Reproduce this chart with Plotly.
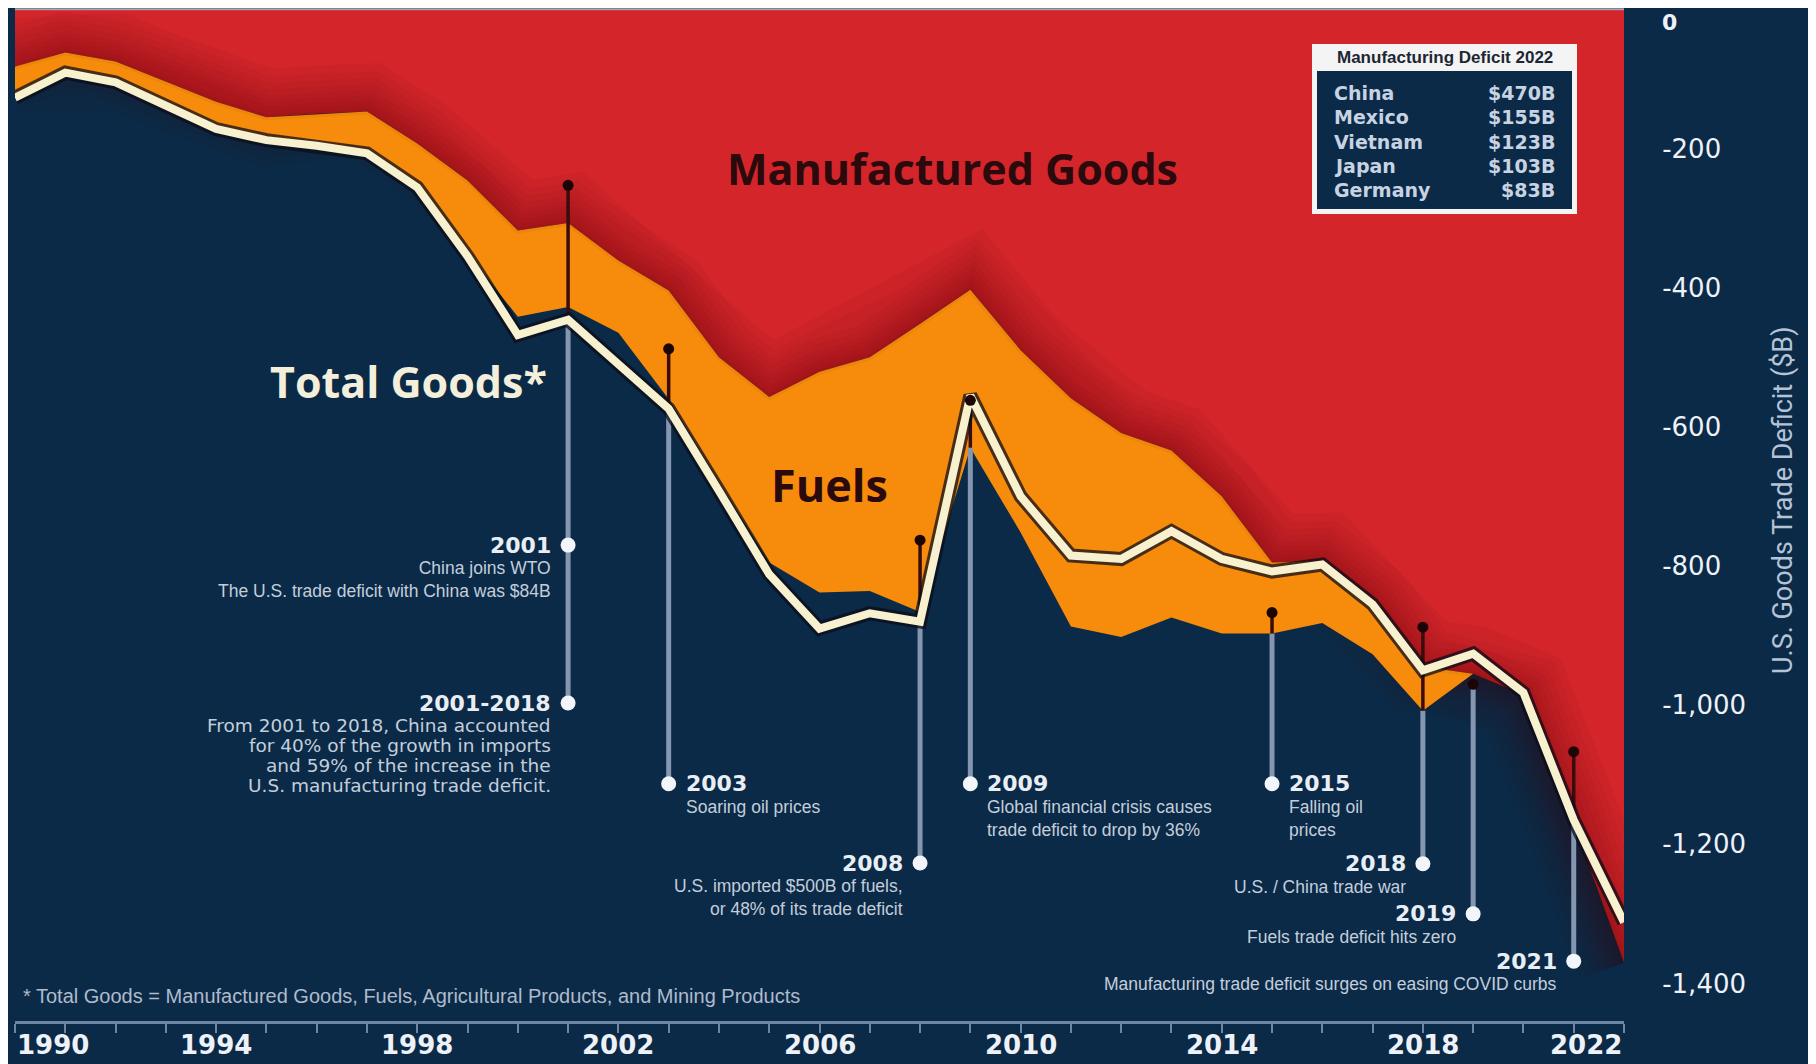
import plotly.graph_objects as go

# ---------------- data ----------------
years = list(range(1990, 2023))

# U.S. goods trade deficit, $B
total_goods = [-127, -91, -105, -140, -172, -188, -196, -207, -256, -355,
               -468, -446, -510, -574, -692, -812, -890, -868, -880, -555,
               -700, -785, -790, -750, -790, -808, -798, -855, -950, -926,
               -982, -1165, -1312]

manufactured = [-82, -62, -75, -104, -133, -155, -150, -147, -193, -246,
                -318, -307, -361, -404, -500, -557, -521, -500, -452, -403,
                -490, -559, -609, -634, -700, -795, -793, -850, -945, -955,
                -985, -1170, -1370]

manufactured_plus_fuels = [-124, -88, -102, -137, -169, -185, -193, -204, -253, -350,
                           -442, -428, -465, -560, -680, -795, -838, -836, -866, -630,
                           -752, -887, -902, -874, -897, -897, -882, -927, -1008, -955,
                           -985, -1170, -1370]

y_tick_vals = [-200, -400, -600, -800, -1000, -1200, -1400]
y_tick_text = ["-200", "-400", "-600", "-800", "-1,000", "-1,200", "-1,400"]
x_label_years = [1990, 1994, 1998, 2002, 2006, 2010, 2014, 2018, 2022]

pin_years = [2001, 2003, 2008, 2009, 2015, 2018, 2019, 2021]
pin_top = [-253, -488, -763, -562, -867, -888, -970, -1067]
pin_bottom = [-997, -1113, -1227, -1113, -1113, -1228, -1300, -1368]
extra_dot_year = 2001
extra_dot_value = -770

event_labels = [
    (2001, -770, "2001", "China joins WTO<br>The U.S. trade deficit with China was $84B", "right"),
    (2001, -997, "2001-2018", None, "right"),
    (2003, -1113, "2003", "Soaring oil prices", "left"),
    (2008, -1227, "2008", "U.S. imported $500B of fuels,<br>or 48% of its trade deficit", "right"),
    (2009, -1113, "2009", "Global financial crisis causes<br>trade deficit to drop by 36%", "left"),
    (2015, -1113, "2015", "Falling oil<br>prices", "left"),
    (2018, -1228, "2018", "U.S. / China trade war", "right"),
    (2019, -1300, "2019", "Fuels trade deficit hits zero", "right"),
    (2021, -1368, "2021", "Manufacturing trade deficit surges on easing COVID curbs", "right"),
]
china_para = ["From 2001 to 2018, China accounted",
              "for 40% of the growth in imports",
              "and 59% of the increase in the",
              "U.S. manufacturing trade deficit."]

inset_title = "Manufacturing Deficit 2022"
inset_countries = ["China", "Mexico", "Vietnam", "Japan", "Germany"]
inset_values = ["$470B", "$155B", "$123B", "$103B", "$83B"]

footnote = "* Total Goods = Manufactured Goods, Fuels, Agricultural Products, and Mining Products"

# ---------------- style ----------------
NAVY = "#0b2a47"
RED = "#d3252a"
ORANGE = "#f68b0c"
CREAM = "#f7f1cf"
PIN_LIGHT = "#8496b0"
PIN_DARK = "#3a0c0e"
OFF = 8                      # page offset of the figure inside the browser page
W, H = 1816 - OFF, 1064 - OFF
L, R, T, B = 7, 192, 0, 43
PW, PH = W - L - R, H - T - B

NARROW = "Liberation Sans Narrow, Roboto, sans-serif"
REG = "Liberation Sans, Arial, sans-serif"
WIDE = "DejaVu Sans, Verdana, sans-serif"
HEAVY = "Open Sans, Lato, sans-serif"


def px(x):
    """page-pixel x -> paper x"""
    return (x - OFF - L) / PW


def py(y):
    """page-pixel y -> paper y"""
    return 1 - (y - OFF - T) / PH


fig = go.Figure()

# manufactured goods area (0 -> manufactured)
fig.add_trace(go.Scatter(x=years, y=manufactured, mode="lines", fill="tozeroy",
                         fillcolor=RED, line=dict(width=0), hoverinfo="skip"))
# soft shadow along the manufactured boundary
for w_ in [96, 80, 66, 54, 42, 32, 22, 13, 6]:
    fig.add_trace(go.Scatter(x=years, y=manufactured, mode="lines",
                             line=dict(width=w_, color="rgba(60,0,10,0.045)"), hoverinfo="skip"))
# fuels band
fig.add_trace(go.Scatter(x=years, y=manufactured_plus_fuels, mode="lines", fill="tonexty",
                         fillcolor=ORANGE, line=dict(width=0), hoverinfo="skip"))

# pin segments
tot = dict(zip(years, total_goods))
mf = dict(zip(years, manufactured_plus_fuels))
lx, ly, dx, dy = [], [], [], []
for yr, top, bot in zip(pin_years, pin_top, pin_bottom):
    split = min(tot[yr], mf[yr])
    if top > split:
        dx += [yr, yr, None]
        dy += [top, split, None]
        start = split
    else:
        start = top
    lx += [yr, yr, None]
    ly += [start, bot, None]
fig.add_trace(go.Scatter(x=lx, y=ly, mode="lines", line=dict(width=5, color=PIN_LIGHT),
                         hoverinfo="skip"))
fig.add_trace(go.Scatter(x=dx, y=dy, mode="lines", line=dict(width=3.5, color=PIN_DARK),
                         hoverinfo="skip"))

# total goods line
fig.add_trace(go.Scatter(x=years, y=total_goods, mode="lines",
                         line=dict(width=14, color="rgba(12,14,24,0.75)"), hoverinfo="skip"))
fig.add_trace(go.Scatter(x=years, y=total_goods, mode="lines",
                         line=dict(width=8, color=CREAM), hoverinfo="skip"))

# pin dots
fig.add_trace(go.Scatter(x=pin_years, y=pin_top, mode="markers",
                         marker=dict(size=11, color="#1c0506"), hoverinfo="skip"))
fig.add_trace(go.Scatter(x=pin_years + [extra_dot_year], y=pin_bottom + [extra_dot_value],
                         mode="markers", marker=dict(size=15, color="#f2f5fa"), hoverinfo="skip"))

ann = []
# event labels
for yr, val, head, desc, side in event_labels:
    sgn = -1 if side == "right" else 1
    ann.append(dict(x=yr, y=val, xref="x", yref="y", text="<b>%s</b>" % head, showarrow=False,
                    xanchor=side, yanchor="middle",
                    xshift=sgn * 15, font=dict(family=WIDE, size=22, color="#e9eef5")))
    if desc:
        ann.append(dict(x=yr, y=val, xref="x", yref="y", text=desc, showarrow=False,
                        xanchor=side, yanchor="top", align=side, xshift=sgn * 15, yshift=-11,
                        font=dict(family=REG, size=17.5, color="#c3cedc")))
for i, line in enumerate(china_para):
    ann.append(dict(x=2001, y=-997, xref="x", yref="y", text=line, showarrow=False,
                    xanchor="right", yanchor="middle", align="right", xshift=-15,
                    yshift=-(22 + 20 * i),
                    font=dict(family=WIDE, size=18.5, color="#c3cedc")))

# big series labels
ann.append(dict(x=px(952), y=py(168), xref="paper", yref="paper", showarrow=False,
                xanchor="center", yanchor="middle",
                text="<b>Manufactured Goods</b>", font=dict(family=HEAVY, size=43, color="#2a0a0d")))
ann.append(dict(x=px(408), y=py(382), xref="paper", yref="paper", showarrow=False,
                xanchor="center", yanchor="middle",
                text="<b>Total Goods*</b>", font=dict(family=HEAVY, size=43, color="#f3efdb")))
ann.append(dict(x=px(829), y=py(484), xref="paper", yref="paper", showarrow=False,
                xanchor="center", yanchor="middle",
                text="<b>Fuels</b>", font=dict(family=HEAVY, size=45, color="#2a0a0d")))

# footnote
ann.append(dict(x=px(21), y=py(996), xref="paper", yref="paper", showarrow=False,
                xanchor="left", yanchor="middle", text=footnote,
                font=dict(family=REG, size=20, color="#aebbcc")))

# y-axis title
ann.append(dict(x=px(1783), y=py(500), xref="paper", yref="paper", showarrow=False,
                xanchor="center", yanchor="middle",
                textangle=-90, text="U.S. Goods Trade Deficit ($B)",
                font=dict(family=NARROW, size=27, color="#b5c3d6")))

# "0" tick label (kept inside the page)
ann.append(dict(x=px(1660), y=1, xref="paper", yref="paper", showarrow=False,
                xanchor="left", yanchor="top", text="<b>0</b>",
                font=dict(family=WIDE, size=22, color="#eef2f8")))

# x tick labels
for yr in x_label_years:
    anchor = "left" if yr == x_label_years[0] else ("right" if yr == x_label_years[-1] else "center")
    ann.append(dict(x=yr, y=py(1045), xref="x", yref="paper", showarrow=False,
                    xanchor=anchor, yanchor="middle", text="<b>%d</b>" % yr,
                    font=dict(family=WIDE, size=26, color="#eef2f8")))

# inset table
shapes = [
    dict(type="rect", xref="paper", yref="paper", x0=px(1312), x1=px(1577), y0=py(44), y1=py(214),
         fillcolor="#f4f4f4", line=dict(width=0), layer="above"),
    dict(type="rect", xref="paper", yref="paper", x0=px(1317), x1=px(1572), y0=py(71), y1=py(209),
         fillcolor=NAVY, line=dict(width=0), layer="above"),
    dict(type="line", xref="x", yref="y", x0=1990, x1=2022, y0=0, y1=0,
         line=dict(color="#a9a3b4", width=2), layer="above"),
]
ann.append(dict(x=px(1444.5), y=py(57.5), xref="paper", yref="paper", showarrow=False,
                xanchor="center", yanchor="middle",
                text="<b>%s</b>" % inset_title,
                font=dict(family=REG, size=17, color="#1d2633")))
for i, (c, v) in enumerate(zip(inset_countries, inset_values)):
    yy = py(93 + i * 24.3)
    ann.append(dict(x=px(1332), y=yy, xref="paper", yref="paper", showarrow=False,
                    xanchor="left", yanchor="middle", text="<b>%s</b>" % c,
                    font=dict(family=WIDE, size=19, color="#c7d3e2")))
    ann.append(dict(x=px(1557), y=yy, xref="paper", yref="paper", showarrow=False,
                    xanchor="right", yanchor="middle", text="<b>%s</b>" % v,
                    font=dict(family=WIDE, size=19, color="#c7d3e2")))

fig.update_layout(
    width=W, height=H,
    margin=dict(l=L, r=R, t=T, b=B, pad=0),
    paper_bgcolor=NAVY, plot_bgcolor=NAVY,
    showlegend=False,
    annotations=ann, shapes=shapes,
    xaxis=dict(range=[1990, 2022], tickvals=years, ticktext=[""] * len(years),
               ticks="outside", ticklen=9, tickwidth=2, tickcolor="#6d86a4",
               showline=True, linecolor="#6d86a4", linewidth=3,
               showgrid=False, zeroline=False, fixedrange=True),
    yaxis=dict(range=[-1454, 1.9], side="right", tickvals=y_tick_vals, ticktext=y_tick_text,
               ticks="outside", ticklen=32, tickcolor="rgba(0,0,0,0)",
               tickfont=dict(family=WIDE, size=26, color="#eef2f8"),
               showline=False, showgrid=False, zeroline=False, fixedrange=True),
)

fig.write_html("out.html")
